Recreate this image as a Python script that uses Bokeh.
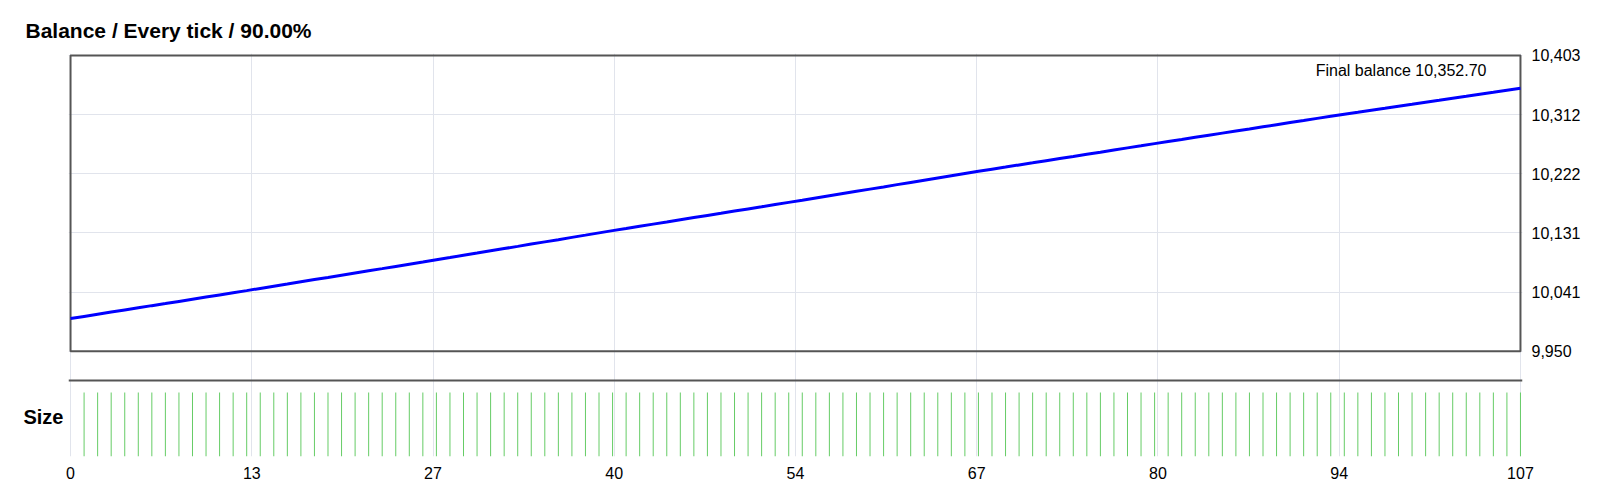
from bokeh.plotting import figure
from bokeh.models import Range1d, FixedTicker, Label, Span, LinearAxis
from bokeh.embed import file_html
from bokeh.resources import INLINE

# ---- data ----
trades = list(range(0, 108))
balance = [
    10000.0, 10003.3, 10006.6, 10009.9, 10013.2, 10016.5, 10019.8, 10023.0, 10026.3, 10029.6,
    10032.9, 10036.2, 10039.5, 10042.8, 10046.2, 10049.6, 10052.9, 10056.3, 10059.7, 10063.0,
    10066.4, 10069.8, 10073.2, 10076.5, 10079.9, 10083.3, 10086.6, 10090.0, 10093.4, 10096.9,
    10100.3, 10103.8, 10107.2, 10110.6, 10114.1, 10117.5, 10120.9, 10124.4, 10127.8, 10131.3,
    10134.7, 10138.0, 10141.4, 10144.7, 10148.0, 10151.4, 10154.7, 10158.0, 10161.3, 10164.7,
    10168.0, 10171.3, 10174.7, 10178.0, 10181.3, 10184.7, 10188.1, 10191.5, 10194.9, 10198.3,
    10201.7, 10205.2, 10208.6, 10212.0, 10215.4, 10218.8, 10222.2, 10225.6, 10228.9, 10232.1,
    10235.4, 10238.6, 10241.9, 10245.2, 10248.4, 10251.7, 10254.9, 10258.2, 10261.5, 10264.7,
    10268.0, 10271.2, 10274.4, 10277.7, 10280.9, 10284.1, 10287.3, 10290.5, 10293.8, 10297.0,
    10300.2, 10303.4, 10306.7, 10309.9, 10313.1, 10316.1, 10319.2, 10322.2, 10325.3, 10328.3,
    10331.4, 10334.4, 10337.5, 10340.5, 10343.6, 10346.6, 10349.7, 10352.7,
]
size_trades = list(range(1, 108))
sizes = [0.10] * 107

x_tick_values = [0, 13.375, 26.75, 40.125, 53.5, 66.875, 80.25, 93.625, 107]
x_tick_labels = ["0", "13", "27", "40", "54", "67", "80", "94", "107"]
y_tick_values = [9950, 10040.6, 10131.2, 10221.8, 10312.4, 10403]
y_tick_labels = ["9,950", "10,041", "10,131", "10,222", "10,312", "10,403"]

title_text = "Balance / Every tick / 90.00%"
size_text = "Size"
final_text = "Final balance {:,.2f}".format(balance[-1])

FONT = "Liberation Sans"
BORDER = "#555555"
GRID = "#e1e4ec"
SIZE_LABEL_Y = 0.062      # vertical position of the "Size" caption (size-range units)
SIZE_PANEL_TOP = 0.11875  # top rule of the size panel (size-range units)

p = figure(
    frame_width=1454, frame_height=403,
    min_border_left=68, min_border_right=64, min_border_top=53, min_border_bottom=30,
    x_range=Range1d(-0.15, 107.15), y_range=Range1d(9788.7, 10406.06),
    y_axis_location="right", output_backend="svg", toolbar_location=None,
    title=title_text,
)
p.extra_y_ranges = {"size": Range1d(0, 0.6297)}

p.title.text_font = FONT
p.title.text_font_size = "21px"
p.title.text_font_style = "bold"
p.title.text_color = "#000000"
p.title.align = "left"
p.title.offset = -43
p.title.standoff = 24

p.outline_line_color = None
p.background_fill_color = "white"
p.border_fill_color = "white"

main_yaxis = p.right[0]
xaxis = p.below[0]

# left "axis" that only carries the Size caption
size_axis = LinearAxis(y_range_name="size", ticker=FixedTicker(ticks=[SIZE_LABEL_Y]))
size_axis.major_label_overrides = {SIZE_LABEL_Y: size_text}
size_axis.major_label_text_font_style = "bold"
size_axis.major_label_text_font_size = "20px"
size_axis.major_label_standoff = 5
p.add_layout(size_axis, "left")

# axes
xaxis.ticker = FixedTicker(ticks=x_tick_values)
xaxis.major_label_overrides = {v: l for v, l in zip(x_tick_values, x_tick_labels)}
main_yaxis.ticker = FixedTicker(ticks=y_tick_values)
main_yaxis.major_label_overrides = {v: l for v, l in zip(y_tick_values, y_tick_labels)}
for ax in (xaxis, main_yaxis, size_axis):
    ax.axis_line_color = None
    ax.major_tick_line_color = None
    ax.minor_tick_line_color = None
    ax.major_tick_out = 0
    ax.major_tick_in = 0
    ax.minor_tick_out = 0
    ax.minor_tick_in = 0
    ax.major_label_text_font = FONT
    ax.major_label_text_color = "#000000"
xaxis.major_label_text_font_size = "16px"
main_yaxis.major_label_text_font_size = "16px"
xaxis.major_label_standoff = 10
main_yaxis.major_label_standoff = 9

p.xgrid.grid_line_color = GRID
p.ygrid.grid_line_color = GRID
p.xgrid.ticker = FixedTicker(ticks=x_tick_values)
p.ygrid.ticker = FixedTicker(ticks=y_tick_values)

# size panel
p.segment(x0=size_trades, y0=[0] * len(sizes), x1=size_trades, y1=sizes,
          y_range_name="size", line_color="#66cc66", line_width=1)
p.add_layout(Span(location=SIZE_PANEL_TOP, dimension="width", y_range_name="size",
                  line_color=BORDER, line_width=2))

# balance box border
p.quad(left=[x_tick_values[0]], right=[x_tick_values[-1]],
       bottom=[y_tick_values[0]], top=[y_tick_values[-1]],
       fill_alpha=0, line_color=BORDER, line_width=2)

# balance line
p.line(trades, balance, line_color="#0000ff", line_width=3)

p.add_layout(Label(x=x_tick_values[-1], y=y_tick_values[-1], x_offset=-34, y_offset=-15,
                   text=final_text, text_align="right", text_baseline="alphabetic",
                   text_font=FONT, text_font_size="16px", text_color="#000000"))

open("out.html", "w").write(file_html(p, INLINE))
